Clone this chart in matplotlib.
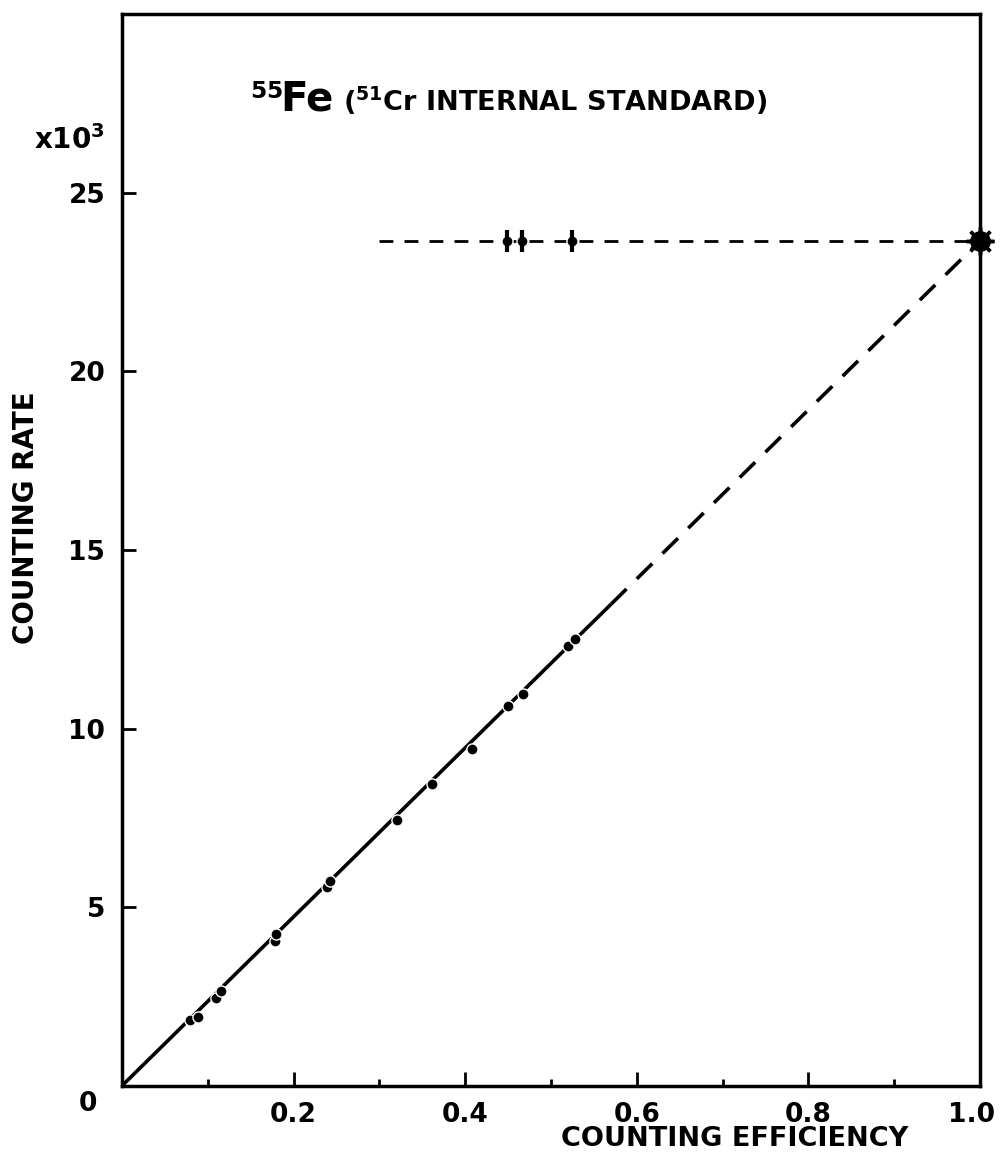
import numpy as np
import matplotlib
matplotlib.use("Agg")
import matplotlib.pyplot as plt
import matplotlib.transforms as mtransforms

# 55Fe counting rate vs counting efficiency (51Cr internal standard)
eff = [0.079, 0.088, 0.110, 0.115, 0.178, 0.180, 0.239, 0.242,
       0.320, 0.361, 0.408, 0.450, 0.467, 0.520, 0.528]
rate = [1.84, 1.92, 2.45, 2.65, 4.05, 4.25, 5.55, 5.72,
        7.43, 8.46, 9.44, 10.64, 10.98, 12.30, 12.50]

# fitted line (solid part and extrapolated dashed part)
fit_x_solid = [0.0, 0.57]
fit_x_dash = [0.57, 1.0]
fit_slope = 23.65

# extrapolated activity at 100 % efficiency
level = 23.65
level_x = [0.30, 1.0]
level_pts_x = [0.449, 0.466, 0.524]

xticks = [0.2, 0.4, 0.6, 0.8, 1.0]
xticklabels = ["0.2", "0.4", "0.6", "0.8", "1.0"]
yticks = [5, 10, 15, 20, 25]

plt.rcParams['font.family'] = ['DejaVu Sans']
plt.rcParams['font.weight'] = 'bold'
plt.rcParams['mathtext.default'] = 'bf'

fig = plt.figure(figsize=(10, 11.65), dpi=100)
ax = fig.add_axes([0.122, 0.068, 0.858, 0.920])

ax.plot(fit_x_solid, [fit_slope * v for v in fit_x_solid], color='black', lw=2.6,
        solid_capstyle='butt')
ax.plot(fit_x_dash, [fit_slope * v for v in fit_x_dash], color='black', lw=2.6,
        dashes=(6, 4))
ax.plot(eff, rate, 'o', color='black', ms=8, mec='white', mew=1.0, zorder=3)

ax.plot(level_x, [level, level], color='black', lw=2.0, dashes=(5, 4))
ax.plot(level_pts_x, [level] * len(level_pts_x), 'o', color='black', ms=8,
        mec='white', mew=1.0, zorder=3)
ax.errorbar(level_pts_x, [level] * len(level_pts_x), yerr=0.3, fmt='none',
            ecolor='black', elinewidth=3, capsize=0, zorder=3)
ax.plot([1.0], [level], 'o', color='black', ms=14, clip_on=False, zorder=4)
ax.plot([1.0], [level], marker=(8, 2, 0), color='black', ms=20, mew=2.5,
        clip_on=False, zorder=4)

ax.set_xlim(0, 1.0)
ax.set_ylim(0, 30)
ax.set_xticks(xticks)
ax.set_xticklabels(xticklabels)
ax.set_xticks([0.1, 0.3, 0.5, 0.7, 0.9], minor=True)
ax.set_yticks(yticks)
ax.tick_params(axis='both', which='major', direction='in', length=10, width=2,
               labelsize=19, pad=12)
ax.tick_params(axis='x', which='minor', direction='in', length=5, width=2)
for lab in ax.get_xticklabels() + ax.get_yticklabels():
    lab.set_fontweight('bold')
# nudge the last x label so it stays inside the figure
last = ax.get_xticklabels()[-1]
last.set_transform(last.get_transform() +
                   mtransforms.ScaledTranslation(-6 / 72, 0, fig.dpi_scale_trans))
for s in ax.spines.values():
    s.set_linewidth(2.5)

fig.text(0.088, 0.052, "0", fontsize=19, fontweight='bold', ha='center', va='center')
fig.text(0.105, 0.880, r"x10$^3$", fontsize=20, fontweight='bold', ha='right', va='center')
fig.text(0.026, 0.556, "COUNTING RATE", fontsize=20, fontweight='bold', rotation=90,
         ha='center', va='center')
fig.text(0.735, 0.022, "COUNTING EFFICIENCY", fontsize=19.5, fontweight='bold',
         ha='center', va='center')

fig.text(0.250, 0.905, r"$^{55}$", fontsize=24, fontweight='bold', ha='left', va='baseline')
fig.text(0.280, 0.905, "Fe", fontsize=29, fontweight='bold', ha='left', va='baseline')
fig.text(0.343, 0.905, r"($^{51}$Cr INTERNAL STANDARD)", fontsize=19.5, fontweight='bold',
         ha='left', va='baseline')

plt.savefig("out.png", dpi=100, facecolor='white')
